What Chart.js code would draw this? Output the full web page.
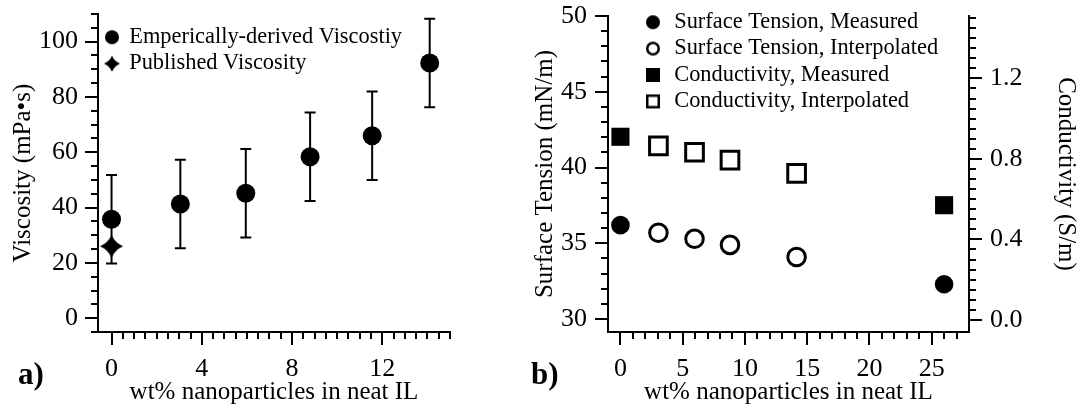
<!DOCTYPE html>
<html>
<head>
<meta charset="utf-8">
<script src="https://cdn.jsdelivr.net/npm/chart.js@4"></script>
<style>
  body { margin: 0; background: #fff; }
  #wrap { position: relative; width: 1081px; height: 413px; overflow: hidden; }
  canvas { position: absolute; top: 0; }
  #chartA { left: 0; }
  #chartB { left: 500px; }
  .panel { position: absolute; font: bold 31px "Liberation Serif", serif; line-height: 31px; color: #000; }
</style>
</head>
<body>
<div id="wrap">
  <canvas id="chartA" width="500" height="413"></canvas>
  <canvas id="chartB" width="581" height="413"></canvas>
  <div class="panel" style="left:18px; top:358px;">a)</div>
  <div class="panel" style="left:531px; top:358px;">b)</div>
</div>
<script>
// ---- panel a) viscosity ----
const wt = [0, 3.05, 5.95, 8.8, 11.55, 14.1];
const viscosity = [35.8, 41.3, 45.2, 58.4, 66.0, 92.3];
const viscosityErr = [16, 16, 16, 16, 16, 16];
const publishedWt = [0];
const publishedVisc = [26.0];
const viscTicks = [0, 20, 40, 60, 80, 100];
const wtTicksA = [0, 4, 8, 12];
const legendA = ["Emperically-derived Viscostiy", "Published Viscosity"];

// ---- panel b) surface tension / conductivity ----
const measuredWt = [0, 26];
const interpWt = [3.05, 5.95, 8.8, 14.15];
const tensionMeasured = [36.2, 32.3];
const tensionInterp = [35.7, 35.3, 34.9, 34.1];
const condMeasured = [0.91, 0.57];
const condInterp = [0.865, 0.833, 0.794, 0.728];
const tensionTicks = [30, 35, 40, 45, 50];
const condTicks = [0, 0.4, 0.8, 1.2];
const wtTicksB = [0, 5, 10, 15, 20, 25];
const legendB = ["Surface Tension, Measured", "Surface Tension, Interpolated",
                 "Conductivity, Measured", "Conductivity, Interpolated"];

const FONT = "'Liberation Serif', 'Times New Roman', serif";
Chart.defaults.color = "#000";
Chart.defaults.font.family = FONT;

// little canvases used as marker images
function makeMark(shape, size, filled, lw) {
  const c = document.createElement("canvas");
  c.width = c.height = Math.ceil(size) + 4;
  const g = c.getContext("2d");
  const m = c.width / 2;
  g.fillStyle = "#000";
  g.strokeStyle = "#000";
  g.lineWidth = lw || 2;
  g.beginPath();
  if (shape === "circle") {
    g.arc(m, m, filled ? size / 2 : (size - lw) / 2, 0, Math.PI * 2);
  } else if (shape === "square") {
    const h = filled ? size / 2 : (size - lw) / 2;
    g.rect(m - h, m - h, 2 * h, 2 * h);
  } else if (shape === "star") {
    const r = size / 2, k = r * 0.3;
    g.moveTo(m, m - r);
    g.quadraticCurveTo(m + k, m - k, m + r, m);
    g.quadraticCurveTo(m + k, m + k, m, m + r);
    g.quadraticCurveTo(m - k, m + k, m - r, m);
    g.quadraticCurveTo(m - k, m - k, m, m - r);
    g.closePath();
  }
  if (filled) g.fill(); else g.stroke();
  return c;
}

const starBig = makeMark("star", 23, true);
const marksA = [makeMark("circle", 14, true), makeMark("star", 16, true)];
const marksB = [makeMark("circle", 14, true), makeMark("circle", 14, false, 2.5),
                makeMark("square", 14, true), makeMark("square", 14, false, 2.5)];

// major + minor tick marks, placed with the scales
const tickMarks = {
  id: "tickMarks",
  afterDraw(chart, args, opts) {
    const ctx = chart.ctx;
    ctx.save();
    ctx.strokeStyle = "#000";
    ctx.lineWidth = 2;
    for (const id in opts.axes) {
      const s = chart.scales[id];
      const a = opts.axes[id];
      const n = Math.round((a.to - a.from) / a.minor);
      for (let i = 0; i <= n; i++) {
        const v = a.from + i * a.minor;
        const q = v / a.major;
        const len = Math.abs(q - Math.round(q)) < 1e-6 ? 13 : 7;
        const p = Math.round(s.getPixelForValue(v));
        ctx.beginPath();
        if (s.position === "bottom") {
          ctx.moveTo(p, s.top); ctx.lineTo(p, s.top + len);
        } else if (s.position === "left") {
          ctx.moveTo(s.right, p); ctx.lineTo(s.right - len, p);
        } else {
          ctx.moveTo(s.left, p); ctx.lineTo(s.left + len, p);
        }
        ctx.stroke();
      }
    }
    ctx.restore();
  }
};

const errorBars = {
  id: "errorBars",
  beforeDatasetsDraw(chart, args, opts) {
    if (!opts.x) return;
    const {ctx, scales} = chart;
    ctx.save();
    ctx.strokeStyle = "#000";
    ctx.lineWidth = 2;
    opts.x.forEach((xv, i) => {
      const px = scales.x.getPixelForValue(xv);
      const top = scales.y.getPixelForValue(opts.y[i] + opts.err[i]);
      const bot = scales.y.getPixelForValue(opts.y[i] - opts.err[i]);
      ctx.beginPath();
      ctx.moveTo(px, top); ctx.lineTo(px, bot);
      ctx.moveTo(px - 5.5, top); ctx.lineTo(px + 5.5, top);
      ctx.moveTo(px - 5.5, bot); ctx.lineTo(px + 5.5, bot);
      ctx.stroke();
    });
    ctx.restore();
  }
};

// put the legend where it sits in the figure
const legendSpot = {
  id: "legendSpot",
  afterLayout(chart, args, opts) {
    const lg = chart.legend;
    if (!lg) return;
    lg.left = opts.left;
    lg.top = opts.top;
    lg.right = opts.left + lg.width;
    lg.bottom = chart.chartArea.bottom;
  }
};

function pts(xs, ys) {
  return xs.map((x, i) => ({x: x, y: ys[i]}));
}

function yAxis(pos, min, max, ticks, width, pad, titleText, titlePad, fmt) {
  return {
    type: "linear",
    position: pos,
    min: min,
    max: max,
    afterBuildTicks: s => { s.ticks = ticks.map(v => ({value: v})); },
    afterFit: s => { s.width = width; s.paddingTop = 0; s.paddingBottom = 0; },
    grid: {display: false, drawTicks: false},
    border: {display: true, color: "#000", width: 2},
    ticks: {padding: pad, font: {family: FONT, size: 26}, color: "#000",
            callback: v => fmt ? v.toFixed(1) : String(v)},
    title: {display: true, text: titleText, font: {family: FONT, size: 25}, color: "#000",
            padding: {top: titlePad, bottom: 0}}
  };
}

function xAxis(min, max, ticks) {
  return {
    type: "linear",
    position: "bottom",
    min: min,
    max: max,
    afterBuildTicks: s => { s.ticks = ticks.map(v => ({value: v})); },
    afterFit: s => { s.height = 81; s.paddingLeft = 0; s.paddingRight = 0; },
    grid: {display: false, drawTicks: false},
    border: {display: true, color: "#000", width: 2},
    ticks: {padding: 22, font: {family: FONT, size: 26}, color: "#000", maxRotation: 0},
    title: {display: true, text: "wt% nanoparticles in neat IL", font: {family: FONT, size: 25}, color: "#000",
            padding: {top: 0, bottom: 6}}
  };
}

function legendOpts(names, marks, boxWidth) {
  return {
    position: "chartArea",
    fullSize: false,
    align: "start",
    labels: {
      usePointStyle: true,
      boxWidth: boxWidth,
      boxHeight: 12,
      padding: 4,
      color: "#000",
      font: {family: FONT, size: 22.4},
      generateLabels: () => names.map((t, i) => ({
        text: t, pointStyle: marks[i], datasetIndex: i, hidden: false,
        lineWidth: 0, fillStyle: "#000", strokeStyle: "#000", fontColor: "#000"
      }))
    }
  };
}

new Chart(document.getElementById("chartA"), {
  type: "scatter",
  data: {
    datasets: [
      {
        label: legendA[0],
        data: pts(wt, viscosity),
        pointStyle: "circle",
        pointRadius: 9.5,
        pointBackgroundColor: "#000",
        pointBorderWidth: 0
      },
      {
        label: legendA[1],
        data: pts(publishedWt, publishedVisc),
        pointStyle: starBig,
        pointRadius: 10,
        pointBorderWidth: 0
      }
    ]
  },
  options: {
    responsive: false,
    animation: false,
    layout: {padding: {left: 0, top: 14, right: 50, bottom: 0}},
    scales: {
      x: xAxis(-0.6, 15, wtTicksA),
      y: yAxis("left", -5, 110, viscTicks, 98, 20, "Viscosity (mPa\u2022s)", 8, false)
    },
    plugins: {
      legend: legendOpts(legendA, marksA, 12),
      tooltip: {enabled: false},
      legendSpot: {left: 102, top: 22},
      errorBars: {x: wt, y: viscosity, err: viscosityErr},
      tickMarks: {axes: {
        x: {from: 0, to: 15, major: 4, minor: 0.5},
        y: {from: -5, to: 110, major: 20, minor: 5}
      }}
    }
  },
  plugins: [tickMarks, errorBars, legendSpot]
});

new Chart(document.getElementById("chartB"), {
  type: "scatter",
  data: {
    datasets: [
      {
        label: legendB[0],
        data: pts(measuredWt, tensionMeasured),
        yAxisID: "y",
        pointStyle: "circle",
        pointRadius: 9.3,
        pointBackgroundColor: "#000",
        pointBorderWidth: 0
      },
      {
        label: legendB[1],
        data: pts(interpWt, tensionInterp),
        yAxisID: "y",
        pointStyle: "circle",
        pointRadius: 8.8,
        pointBackgroundColor: "#fff",
        pointBorderColor: "#000",
        pointBorderWidth: 3
      },
      {
        label: legendB[2],
        data: pts(measuredWt, condMeasured),
        yAxisID: "y2",
        pointStyle: "rect",
        pointRadius: 12.8,
        pointBackgroundColor: "#000",
        pointBorderWidth: 0
      },
      {
        label: legendB[3],
        data: pts(interpWt, condInterp),
        yAxisID: "y2",
        pointStyle: "rect",
        pointRadius: 12.5,
        pointBackgroundColor: "#fff",
        pointBorderColor: "#000",
        pointBorderWidth: 3
      }
    ]
  },
  options: {
    responsive: false,
    animation: false,
    layout: {padding: {left: 0, top: 16, right: 0, bottom: 0}},
    scales: {
      x: xAxis(-1, 28, wtTicksB),
      y: yAxis("left", 29.15, 50, tensionTicks, 108, 21, "Surface Tension (mN/m)", 30, false),
      y2: yAxis("right", -0.06, 1.51, condTicks, 112, 21, "Conductivity (S/m)", 0, true)
    },
    plugins: {
      legend: legendOpts(legendB, marksB, 20),
      tooltip: {enabled: false},
      legendSpot: {left: 139, top: 7},
      tickMarks: {axes: {
        x: {from: 0, to: 27, major: 5, minor: 1},
        y: {from: 30, to: 50, major: 5, minor: 1},
        y2: {from: 0, to: 1.5, major: 0.4, minor: 0.05}
      }}
    }
  },
  plugins: [tickMarks, errorBars, legendSpot]
});
</script>
</body>
</html>
